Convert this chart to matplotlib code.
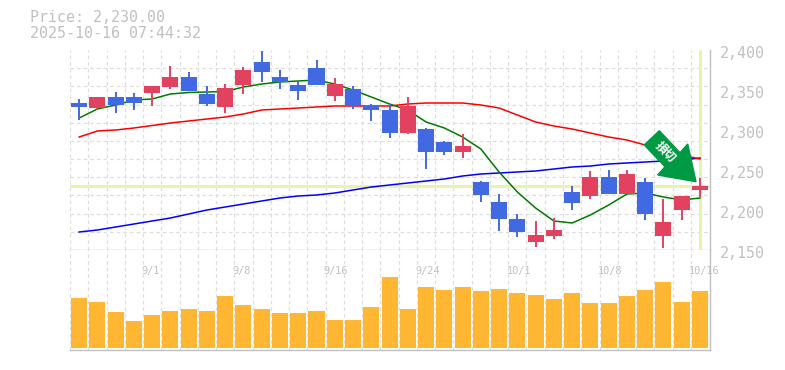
import matplotlib
matplotlib.use('Agg')
import matplotlib.pyplot as plt
from matplotlib.patches import Polygon
from matplotlib.transforms import ScaledTranslation
import numpy as np

W, H = 785, 370

# ohlc
opens = [2333.75, 2327.5, 2341.25, 2341.25, 2346.25, 2353.75, 2366.25, 2345, 2328.75, 2356.25,
         2385, 2366.25, 2356.25, 2377.5, 2342.5, 2351.25, 2330, 2325, 2296.25, 2301.25,
         2285, 2272.5, 2235, 2210, 2188.75, 2160, 2167.5, 2222.5, 2217.5, 2241.25,
         2220, 2235, 2167.5, 2200, 2225]
highs = [2338.75, 2341.25, 2347.5, 2346.25, 2355, 2380, 2372.5, 2355, 2357.5, 2378.75,
         2398.75, 2375, 2360, 2387.5, 2365, 2355, 2332.5, 2332.5, 2341.25, 2302.5,
         2286.25, 2295, 2236.25, 2220, 2195, 2186.25, 2190, 2230, 2248.75, 2250,
         2250, 2240, 2213.75, 2217.5, 2240]
lows = [2312.5, 2325, 2321.25, 2325, 2330, 2351.25, 2348.75, 2330, 2321.25, 2345,
        2360, 2351.25, 2337.5, 2356.25, 2336.25, 2326.25, 2311.25, 2290, 2295, 2251.25,
        2268.75, 2265, 2210, 2173.75, 2166.25, 2153.75, 2163.75, 2200, 2213.75, 2220,
        2220, 2187.5, 2152.5, 2187.5, 2216.25]
closes = [2328.75, 2341.25, 2331.25, 2333.75, 2355, 2366.25, 2348.75, 2332.5, 2352.5, 2375,
          2372.5, 2360, 2348.75, 2356.25, 2357.5, 2330, 2325, 2296.25, 2330, 2272.5,
          2272.5, 2280, 2218.75, 2188.75, 2172.5, 2168.75, 2175, 2208.75, 2241.25, 2220,
          2245, 2195, 2185, 2217.5, 2230]

ma_short = [2315, 2326.25, 2331.25, 2337.5, 2338.75, 2345, 2346.9, 2347.5, 2348.1, 2353.75,
            2357.5, 2360, 2361.25, 2362.5, 2357.5, 2350, 2341.25, 2332.5, 2325, 2310,
            2302.5, 2291.25, 2276.25, 2247.5, 2222.5, 2202.5, 2186.25, 2183.75, 2193.75, 2206.25,
            2220, 2221.25, 2216.25, 2212.5, 2215]
ma_mid = [2291.25, 2298.75, 2300, 2302.5, 2305.6, 2308.75, 2311.25, 2313.75, 2316.25, 2320,
          2325, 2326.25, 2327.5, 2328.75, 2330, 2330, 2330, 2330, 2332.5, 2333.75,
          2333.75, 2333.75, 2331.25, 2327.5, 2318.75, 2310, 2305, 2301.25, 2296.25, 2291.25,
          2287.5, 2281.25, 2276.25, 2268.75, 2263.75]
ma_long = [2172.5, 2175, 2178.75, 2182.5, 2186.25, 2190, 2195, 2200, 2203.75, 2207.5,
           2211.25, 2215, 2217.5, 2218.75, 2221.25, 2225, 2228.75, 2231.25, 2233.75, 2236.25,
           2238.75, 2242.5, 2245, 2246.25, 2247.5, 2248.75, 2251.25, 2253.75, 2255, 2257.5,
           2258.75, 2260, 2261.25, 2262.5, 2265]

volume = [50, 46, 36, 27, 33, 37, 39, 37, 52, 43, 39, 35, 35, 37, 28, 28, 41, 71,
          39, 61, 58, 61, 57, 59, 55, 53, 49, 55, 45, 45, 52, 58, 66, 46, 57]

price_ticks = [2150, 2200, 2250, 2300, 2350, 2400]
date_ticks = [4, 9, 14, 19, 24, 29, 34]
date_labels = ['9/1', '9/8', '9/16', '9/24', '10/1', '10/8', '10/16']
last_price = 2230

UP = '#E2425F'
DOWN = '#4169E1'
GRAY = '#c0c0c0'
GRID = '#dddddd'
LIME = '#e6f5a9'
dash = (0, (3, 2.5))
px = 72 / 100

fig = plt.figure(figsize=(W / 100, H / 100), dpi=100)
ax = fig.add_axes([70 / W, 1 - 250 / H, 640 / W, 200 / H])
ax_vol = fig.add_axes([70 / W, 1 - 350 / H, 640 / W, 100 / H])

x = np.arange(len(closes))
xlim = (-0.5, 34.55)
body_w = 0.877

for a in (ax, ax_vol):
    a.set_xlim(*xlim)
    a.set_xticks(x - 0.5, minor=True)
    a.grid(True, which='minor', axis='x', color=GRID, lw=px * 1.2, ls=dash)
    a.tick_params(which='both', length=0)
    a.set_axisbelow(True)
    for side in ('top', 'left'):
        a.spines[side].set_visible(False)
    for side in ('right', 'bottom'):
        a.spines[side].set_color(GRAY)
        a.spines[side].set_linewidth(1.0)

# price pane
ax.set_ylim(2150, 2400)
ax.set_yticks(np.linspace(2150, 2400, 12), minor=True)
ax.grid(True, which='minor', axis='y', color=GRID, lw=px * 1.2, ls=dash)
ax.set_xticks([])
ax.yaxis.tick_right()
ax.set_yticks(price_ticks)
ax.set_yticklabels([f'{p:,}' for p in price_ticks], family='DejaVu Sans Mono', fontsize=10.8, color=GRAY)
ax.tick_params(axis='y', which='major', pad=7)
shift = ScaledTranslation(0, -2.5 / 100, fig.dpi_scale_trans)
for lab in ax.get_yticklabels():
    lab.set_transform(lab.get_transform() + shift)

ax.axhline(last_price, color=LIME, lw=3 * px, zorder=1.5)
ax.plot([34, 34], [2150 + 1.5, 2400], color=LIME, lw=3 * px, zorder=1.5, solid_capstyle='butt')

ax.plot(x, ma_long, color='#0000ff', lw=1.1, zorder=2)
ax.plot(x, ma_mid, color='#ff0000', lw=1.1, zorder=2)
ax.plot(x, ma_short, color='#007a00', lw=1.1, zorder=2)

for i in x:
    c = UP if closes[i] >= opens[i] else DOWN
    ax.vlines(i, lows[i], highs[i], color=c, lw=1.4, zorder=3)
    ax.bar(i, abs(closes[i] - opens[i]), bottom=min(opens[i], closes[i]), width=body_w, color=c, zorder=3)

# volume pane
ax_vol.set_ylim(-2, 98)
ax_vol.set_yticks([])
ax_vol.bar(x, volume, width=body_w, color='#FFB733', zorder=3)
ax_vol.set_xticks(date_ticks)
ax_vol.set_xticklabels(date_labels, family='DejaVu Sans Mono', fontsize=7.4, color=GRAY, ha='left')
shift_x = ScaledTranslation(-11 / 100, 88 / 100 + 1 / 100, fig.dpi_scale_trans)
for lab in ax_vol.get_xticklabels():
    lab.set_transform(lab.get_transform() + shift_x)
    lab.set_zorder(5)

# signal arrow
arrow_px = [(659.3, 130.7), (644.3, 145), (665, 166.7), (657.7, 175), (696, 181.7), (687.7, 144), (680, 152.7)]
arrow = Polygon([(a / W, 1 - b / H) for a, b in arrow_px], closed=True, color='#009944',
                transform=fig.transFigure, zorder=10)
fig.add_artist(arrow)
fig.text(665 / W, 1 - 152 / H, '損切', family=['Noto Sans CJK JP', 'DejaVu Sans'], fontsize=8.5, color='white',
         fontweight='bold', rotation=-45, ha='center', va='center', rotation_mode='anchor', zorder=11)

# header
fig.text(30 / W, 1 - 18 / H, 'Price: 2,230.00', family='DejaVu Sans Mono', fontsize=10.8, color=GRAY, va='center')
fig.text(30 / W, 1 - 33.5 / H, '2025-10-16 07:44:32', family='DejaVu Sans Mono', fontsize=10.8, color=GRAY, va='center')

fig.savefig('out.png', dpi=100)
